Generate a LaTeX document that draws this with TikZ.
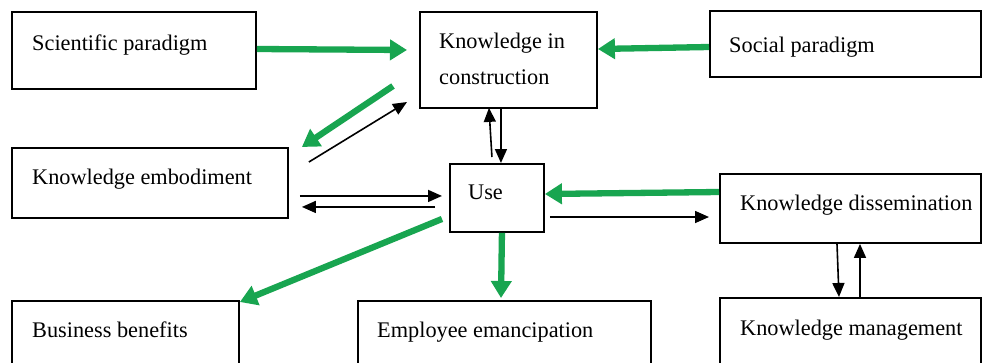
\documentclass[tikz,border=0pt]{standalone}
\usepackage{fontspec}
\setmainfont{Liberation Serif}
\usetikzlibrary{arrows.meta}
\definecolor{grn}{RGB}{24,165,80}
\begin{document}
\begin{tikzpicture}[x=1pt,y=-1pt,
 box/.style={draw=black, line width=1.9pt, rectangle, inner sep=0pt, anchor=north west},
 lbl/.style={anchor=base west, inner sep=0pt, font=\fontsize{22.3}{26}\selectfont},
 blk/.style={draw=black, line width=1.6pt, -{Triangle[length=14pt,width=12pt]}},
 gar/.style={draw=grn, line width=6.3pt, -{Triangle[length=17pt,width=20pt]}},
]
\useasboundingbox (0,0) rectangle (989,362);
\fill[white] (0,0) rectangle (989,362);
\clip (0,0) rectangle (989,362);
% boxes
\node[box, minimum width=244pt, minimum height=77pt] (sp) at (11,11) {};
\node[box, minimum width=177pt, minimum height=96pt] (kic) at (419,11) {};
\node[box, minimum width=271pt, minimum height=66pt] (soc) at (709,10) {};
\node[box, minimum width=276pt, minimum height=70pt] (ke) at (11,147) {};
\node[box, minimum width=94pt, minimum height=68pt] (use) at (449,163) {};
\node[box, minimum width=261pt, minimum height=69pt] (kd) at (719,173) {};
\node[box, minimum width=261pt, minimum height=90pt] (km) at (719,297) {};
\node[box, minimum width=227pt, minimum height=90pt] (bb) at (11,300) {};
\node[box, minimum width=293pt, minimum height=90pt] (ee) at (357,300) {};
% texts
\node[lbl] (tsp) at (32,50) {Scientific paradigm};
\node[lbl] (tkic1) at (439,48) {Knowledge in};
\node[lbl] (tkic2) at (439,84) {construction};
\node[lbl] (tsoc) at (729,52) {Social paradigm};
\node[lbl] (tke) at (32,184) {Knowledge embodiment};
\node[lbl] (tuse) at (468,199) {Use};
\node[lbl] (tkd) at (740,210) {Knowledge dissemination};
\node[lbl] (tkm) at (740,335) {Knowledge management};
\node[lbl] (tbb) at (32,337) {Business benefits};
\node[lbl] (tee) at (377,337) {Employee emancipation};
% green arrows
\draw[gar] ([shift={(0,38)}]sp.north east) -- ([shift={(-12,39)}]kic.north west);
\draw[gar] ([shift={(0,37)}]soc.north west) -- ([shift={(0,38)}]kic.north east);
\draw[gar] ([shift={(-26,75)}]kic.north west) -- ([shift={(13,0)}]ke.north east);
\draw[gar] ([shift={(-7,21)}]use.west) -- ([shift={(0,2)}]bb.north east);
\draw[gar] ([shift={(5,0)}]use.south) -- ([shift={(144,-2)}]ee.north west);
\draw[gar] ([shift={(0,19)}]kd.north west) -- ([shift={(0,31)}]use.north east);
% black arrows
\draw[blk] ([shift={(20,15)}]ke.north east) -- ([shift={(-12,91)}]kic.north west);
\draw[blk] ([shift={(11,13)}]ke.east) -- ([shift={(-7,-2)}]use.west);
\draw[blk] ([shift={(-14,9)}]use.west) -- ([shift={(13,24)}]ke.east);
\draw[blk] ([shift={(-5,-6)}]use.north) -- ([shift={(-19.5,-1)}]kic.south);
\draw[blk] ([shift={(-7.5,0)}]kic.south) -- ([shift={(4,0)}]use.north);
\draw[blk] ([shift={(5,54)}]use.north east) -- ([shift={(-10,44)}]kd.north west);
\draw[blk] ([shift={(118,0)}]kd.south west) -- ([shift={(120,0)}]km.north west);
\draw[blk] ([shift={(141,0)}]km.north west) -- ([shift={(141,0)}]kd.south west);
\end{tikzpicture}
\end{document}
